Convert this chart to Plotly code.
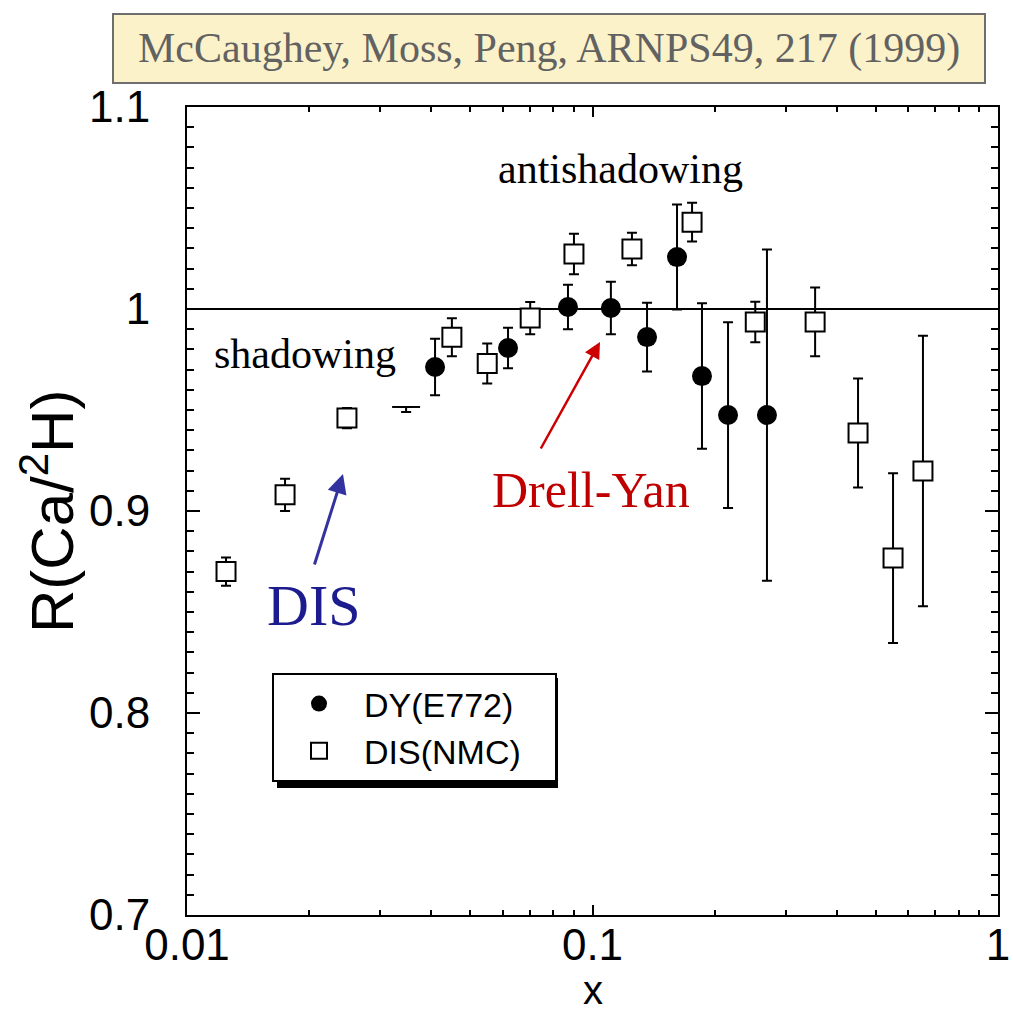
import plotly.graph_objects as go

# ---------------- data ----------------
dy_x = [0.0409, 0.0619, 0.0870, 0.1110, 0.1363, 0.1616, 0.1862, 0.2159, 0.2693]
dy_y = [0.9713, 0.9807, 1.0010, 1.0005, 0.9861, 1.0257, 0.9668, 0.9475, 0.9475]
dy_err = [0.014, 0.010, 0.011, 0.013, 0.017, 0.026, 0.036, 0.046, 0.082]

dis_x = [0.01248, 0.01745, 0.0248, 0.0450, 0.0550, 0.0702, 0.0900, 0.1251, 0.176,
         0.252, 0.354, 0.4517, 0.551, 0.653]
dis_y = [0.870, 0.908, 0.946, 0.986, 0.973, 0.9955, 1.0272, 1.0297, 1.043,
         0.9936, 0.9936, 0.9386, 0.8767, 0.9198]
dis_err = [0.007, 0.008, 0.005, 0.0094, 0.0099, 0.008, 0.010, 0.008, 0.0096,
           0.010, 0.017, 0.027, 0.042, 0.067]

# partially hidden DIS point
dis_hidden_x = [0.0347]
dis_hidden_y = [0.9515]
dis_hidden_err = [0.0025]

y_major = [0.7, 0.75, 0.8, 0.85, 0.9, 0.95, 1.0, 1.05, 1.1]
y_major_text = ["0.7", "", "0.8", "", "0.9", "", "1", "", "1.1"]
x_major = [0.01, 0.1, 1]
x_major_text = ["0.01", "0.1", "1"]

# ---------------- layout geometry ----------------
W, H = 1013, 1017
L, R, T, B = 187, 998, 107, 915


def px(xp):
    return (xp - L) / (R - L)


def py(yp):
    return (B - yp) / (B - T)


fig = go.Figure()

fig.add_trace(go.Scatter(
    x=dis_hidden_x, y=dis_hidden_y, mode="markers", showlegend=False,
    marker=dict(symbol="line-ew-open", size=20, color="black",
                line=dict(color="black", width=2)),
    error_y=dict(type="data", array=[0], arrayminus=dis_hidden_err, symmetric=False,
                 color="black", thickness=2, width=5),
))

fig.add_trace(go.Scatter(
    x=dy_x, y=dy_y, mode="markers", name="DY(E772)\u00a0\u00a0\u00a0",
    marker=dict(symbol="circle", size=20, color="black"),
    error_y=dict(type="data", array=dy_err, color="black", thickness=2, width=5),
))

fig.add_trace(go.Scatter(
    x=dis_x, y=dis_y, mode="markers", name="DIS(NMC)\u00a0\u00a0\u00a0",
    marker=dict(symbol="square", size=19, color="white",
                line=dict(color="black", width=2)),
    error_y=dict(type="data", array=dis_err, color="black", thickness=2, width=5),
))

tickfont = dict(family="Liberation Sans, Arial, sans-serif", size=44, color="black")

minor_x = [k * 0.01 for k in range(2, 10)] + [k * 0.1 for k in range(2, 10)]
minor_y = [round(0.7 + 0.01 * k, 2) for k in range(41)]

fig.update_xaxes(
    type="log", range=[-2, 0], showgrid=False, zeroline=False, automargin=False,
    showline=True, linecolor="black", linewidth=2, mirror="ticks",
    ticks="inside", ticklen=10, tickwidth=1.5, tickcolor="black",
    tickvals=x_major, ticktext=x_major_text, tickfont=tickfont,
    minor=dict(tickvals=minor_x, ticks="inside", ticklen=5, tickwidth=1.5,
               tickcolor="black", showgrid=False),
    ticklabelstandoff=-10,
)
fig.update_yaxes(
    range=[0.7, 1.1], showgrid=False, zeroline=False, automargin=False,
    showline=True, linecolor="black", linewidth=2, mirror="ticks",
    ticks="inside", ticklen=13, tickwidth=1.5, tickcolor="black",
    tickvals=y_major, ticktext=y_major_text, tickfont=tickfont,
    minor=dict(tickvals=minor_y, ticks="inside", ticklen=7, tickwidth=1.5,
               tickcolor="black", showgrid=False),
    ticklabelstandoff=26,
)

serif = "Liberation Serif, Times New Roman, serif"
sans = "Liberation Sans, Arial, sans-serif"

shapes = [
    # reference line at R = 1
    dict(type="line", xref="paper", yref="y", x0=0, x1=1, y0=1.0, y1=1.0,
         line=dict(color="black", width=2), layer="below"),
    # citation box
    dict(type="rect", xref="paper", yref="paper", x0=px(113), x1=px(985),
         y0=py(83), y1=py(14), fillcolor="#fcf2c9", line=dict(color="#6e6e6e", width=2)),
    # legend shadow
    dict(type="rect", xref="paper", yref="paper", x0=px(277), x1=px(558),
         y0=py(788), y1=py(678), fillcolor="black", line=dict(width=0)),
]


def label(text, x, y, font, **kw):
    return dict(text=text, xref="paper", yref="paper", x=px(x), y=py(y),
                xanchor="center", yanchor="middle", showarrow=False, font=font, **kw)


annotations = [
    label("McCaughey, Moss, Peng, ARNPS49, 217 (1999)", 549, 48,
          dict(family=serif, size=42, color="#626262")),
    label("shadowing", 305, 354, dict(family=serif, size=42, color="black")),
    label("antishadowing", 620, 169, dict(family=serif, size=42, color="black")),
    label("DIS", 313, 605, dict(family=serif, size=58, color="#1c1c8e")),
    label("Drell-Yan", 591, 490, dict(family=serif, size=50, color="#c00000")),
    # arrows
    dict(x=-1.6153, y=0.9183, ax=-1.6868, ay=0.8728, xref="x", yref="y",
         axref="x", ayref="y", text="", showarrow=True, arrowhead=2,
         arrowsize=1.3, arrowwidth=3, arrowcolor="#33339f"),
    dict(x=-0.9815, y=0.9837, ax=-1.1295, ay=0.9302, xref="x", yref="y",
         axref="x", ayref="y", text="", showarrow=True, arrowhead=2,
         arrowsize=1.3, arrowwidth=2.5, arrowcolor="#cc0000"),
    # axis titles
    label("x", 593, 990, dict(family=sans, size=40, color="black")),
    label("R(Ca/<sup>2</sup>H)", 48, 512, dict(family=sans, size=60, color="black"),
          textangle=-90),
]

fig.update_layout(
    width=W, height=H,
    margin=dict(l=L, r=W - R, t=T, b=H - B),
    paper_bgcolor="white", plot_bgcolor="white",
    shapes=shapes, annotations=annotations,
    showlegend=True,
    legend=dict(x=px(272), y=py(673), xanchor="left", yanchor="top",
                bgcolor="white", bordercolor="black", borderwidth=2,
                font=dict(family=sans, size=34, color="black"),
                itemwidth=80, tracegroupgap=0),
)

fig.write_html("out.html")
